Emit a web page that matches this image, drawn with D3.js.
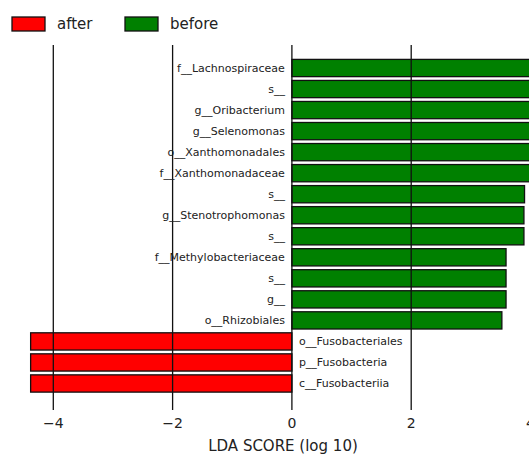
<!DOCTYPE html>
<html><head><meta charset="utf-8">
<script src="https://cdn.jsdelivr.net/npm/d3@7/dist/d3.min.js"></script>
<style>body{margin:0;background:#fff;overflow:hidden}svg{display:block}</style>
</head><body>
<svg id="chart" width="529" height="454"></svg>
<script>
const taxa = ["f__Lachnospiraceae","s__","g__Oribacterium","g__Selenomonas","o__Xanthomonadales","f__Xanthomonadaceae","s__","g__Stenotrophomonas","s__","f__Methylobacteriaceae","s__","g__","o__Rhizobiales","o__Fusobacteriales","p__Fusobacteria","c__Fusobacteriia"];
const groups = ["before","before","before","before","before","before","before","before","before","before","before","before","before","after","after","after"];
const ldaScores = [4.30,4.29,4.28,4.27,4.26,4.25,3.90,3.89,3.89,3.59,3.59,3.59,3.52,-4.38,-4.38,-4.38];
const xTicks = [-4,-2,0,2,4];
const legendGroups = ["after","before"];
const colors = {after:"#ff0000", before:"#008000"};

const svg = d3.select("#chart");
const font = "DejaVu Sans, sans-serif";
const x = d3.scaleLinear().domain([-4,4]).range([53.3,530.5]);
const y = d3.scaleBand().domain(d3.range(taxa.length)).range([57.5,394]).paddingInner(0.18).paddingOuter(0.09);
const plotTop = 45, plotBottom = 410;

// bars
svg.append("g").selectAll("rect").data(ldaScores).join("rect")
  .attr("x", d => x(Math.min(0,d)))
  .attr("width", d => Math.abs(x(d)-x(0)))
  .attr("y", (d,i) => y(i))
  .attr("height", y.bandwidth())
  .attr("fill", (d,i) => colors[groups[i]])
  .attr("stroke", "#111").attr("stroke-width", 1.3);

// gridlines over bars
svg.append("g").selectAll("line").data(xTicks).join("line")
  .attr("x1", d => x(d)).attr("x2", d => x(d))
  .attr("y1", plotTop).attr("y2", plotBottom)
  .attr("stroke", "#111").attr("stroke-width", 1.3);

// labels
svg.append("g").selectAll("text").data(taxa).join("text")
  .attr("x", (d,i) => ldaScores[i] > 0 ? x(0)-7 : x(0)+7)
  .attr("y", (d,i) => y(i)+y.bandwidth()/2)
  .attr("dy", "0.35em")
  .attr("text-anchor", (d,i) => ldaScores[i] > 0 ? "end" : "start")
  .attr("font-family", font).attr("font-size", 11).attr("fill", "#222")
  .text(d => d);

// tick labels
svg.append("g").selectAll("text").data(xTicks).join("text")
  .attr("x", d => x(d)).attr("y", 423).attr("dy", "0.35em")
  .attr("text-anchor", "middle")
  .attr("font-family", font).attr("font-size", 14).attr("fill", "#222")
  .text(d => d < 0 ? "\u2212" + Math.abs(d) : d);

svg.append("text").attr("x", 283).attr("y", 446).attr("dy","0.35em")
  .attr("text-anchor","middle").attr("font-family", font).attr("font-size", 15).attr("fill","#222")
  .text("LDA SCORE (log 10)");

// legend
const leg = svg.append("g").selectAll("g").data(legendGroups).join("g")
  .attr("transform", (d,i) => `translate(${12 + i*113},17)`);
leg.append("rect").attr("width", 33).attr("height", 14)
  .attr("fill", d => colors[d]).attr("stroke", "#111").attr("stroke-width", 1.3);
leg.append("text").attr("x", 45).attr("y", 7).attr("dy","0.35em")
  .attr("font-family", font).attr("font-size", 15).attr("fill","#222").text(d => d);
</script>
</body></html>
